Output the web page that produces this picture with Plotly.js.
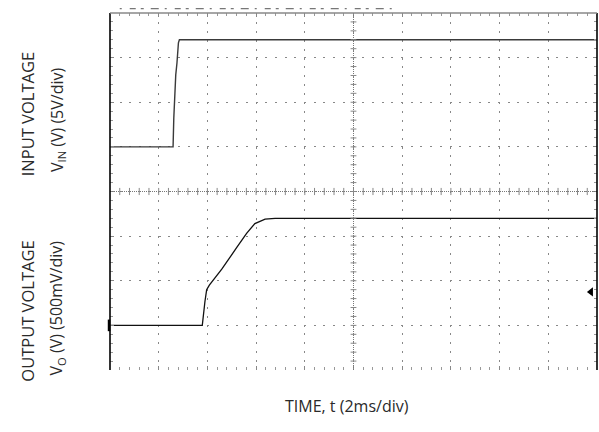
<!DOCTYPE html>
<html>
<head>
<meta charset="utf-8">
<script src="https://cdn.plot.ly/plotly-3.0.1.min.js"></script>
<style>html,body{margin:0;padding:0;background:#fff;}#chart{width:599px;height:432px;}</style>
</head>
<body>
<div id="chart"></div>
<script>
// ---- data (time in ms, voltage in V) ----
const inputTime = [0, 2.59, 2.62, 2.67, 2.70, 2.75, 2.81, 2.85, 2.93, 20];
const inputVolt = [0, 0, 3.25, 6.4, 8.07, 9.4, 11.65, 12, 12, 12];
const outputTime = [0, 3.79, 3.90, 3.97, 4.08, 4.59, 5.20, 5.61, 5.95, 6.37, 6.78, 20];
const outputVolt = [0, 0, 0.27, 0.40, 0.45, 0.63, 0.87, 1.03, 1.14, 1.19, 1.20, 1.20];
// scope settings
const inputScale = 5;      // V/div
const outputScale = 0.5;   // V/div
const inputGroundDiv = 5;  // divisions from bottom
const outputGroundDiv = 1;
const triggerLevelDiv = 1.75;
const timeRange = [0, 20];
const divRange = [0, 8];

const inY = inputVolt.map(v => inputGroundDiv + v / inputScale);
const outY = outputVolt.map(v => outputGroundDiv + v / outputScale);

const traces = [
  {x: inputTime, y: inY, mode: 'lines', line: {color: '#3a3a3a', width: 1.4}, hoverinfo: 'skip'},
  {x: outputTime, y: outY, mode: 'lines', line: {color: '#111', width: 1.3}, hoverinfo: 'skip'},
  {x: [19.75], y: [triggerLevelDiv], mode: 'markers', cliponaxis: false,
   marker: {symbol: 'triangle-left', size: 8, color: '#000'}, hoverinfo: 'skip'}
];

const shapes = [];
// centre crosshair
shapes.push({type: 'line', xref: 'x', yref: 'y', x0: 0, x1: 20, y0: 4, y1: 4,
  line: {color: '#777', width: 1, dash: '1px,1px'}});
shapes.push({type: 'line', xref: 'x', yref: 'y', x0: 10, x1: 10, y0: 0, y1: 8,
  line: {color: '#777', width: 1, dash: '1px,1px'}});
for (let i = 1; i < 50; i++) {
  const t = i * 0.4;
  shapes.push({type: 'line', xref: 'x', yref: 'y', x0: t, x1: t, y0: 4 - 0.08, y1: 4 + 0.08,
    line: {color: '#888', width: 1}});
}
for (let j = 1; j < 40; j++) {
  const d = j * 0.2;
  shapes.push({type: 'line', xref: 'x', yref: 'y', x0: 10 - 0.12, x1: 10 + 0.12, y0: d, y1: d,
    line: {color: '#888', width: 1}});
}
// frame
shapes.push({type: 'line', xref: 'paper', yref: 'paper', x0: 0, x1: 0, y0: 0, y1: 1,
  line: {color: '#000', width: 1.6}});
shapes.push({type: 'line', xref: 'paper', yref: 'paper', x0: 1, x1: 1, y0: 0, y1: 1,
  line: {color: '#000', width: 1.6}});
shapes.push({type: 'line', xref: 'paper', yref: 'paper', x0: 0, x1: 1, y0: 1, y1: 1,
  line: {color: '#888', width: 1.5}});
// output ground marker
shapes.push({type: 'line', xref: 'paper', yref: 'y', x0: -0.002, x1: -0.002,
  y0: outputGroundDiv - 0.13, y1: outputGroundDiv + 0.13, line: {color: '#000', width: 2.5}});
// scope header remnant above the grid
shapes.push({type: 'line', xref: 'paper', yref: 'paper', x0: 0.02, x1: 0.58, y0: 1.012, y1: 1.012,
  line: {color: '#555', width: 1, dash: '2px,8px,6px,5px,3px,7px,8px,6px'}});

const fontFam = '"Open Sans", "Noto Sans", sans-serif';
const capFont = {family: fontFam, size: 16.5, color: '#2a2a2a'};
const annFont = {family: fontFam, size: 16, color: '#2a2a2a'};
const annotations = [
  {text: 'INPUT VOLTAGE', xref: 'paper', yref: 'paper', x: -0.170, y: 0.717,
   xanchor: 'center', yanchor: 'middle', textangle: -90, showarrow: false, font: capFont},
  {text: 'V<sub>IN</sub> (V) (5V/div)', xref: 'paper', yref: 'paper', x: -0.109, y: 0.700,
   xanchor: 'center', yanchor: 'middle', textangle: -90, showarrow: false, font: annFont},
  {text: 'OUTPUT VOLTAGE', xref: 'paper', yref: 'paper', x: -0.170, y: 0.164,
   xanchor: 'center', yanchor: 'middle', textangle: -90, showarrow: false, font: capFont},
  {text: 'V<sub>O</sub> (V) (500mV/div)', xref: 'paper', yref: 'paper', x: -0.109, y: 0.175,
   xanchor: 'center', yanchor: 'middle', textangle: -90, showarrow: false, font: annFont},
  {text: 'TIME, t (2ms/div)', xref: 'paper', yref: 'paper', x: 0.487, y: -0.101,
   xanchor: 'center', yanchor: 'middle', showarrow: false, font: annFont}
];

const layout = {
  width: 599, height: 432,
  margin: {l: 110, r: 2, t: 13, b: 62, pad: 0},
  paper_bgcolor: '#fff', plot_bgcolor: '#fff',
  showlegend: false,
  xaxis: {
    range: timeRange, dtick: 2, tick0: 0, showticklabels: false, zeroline: false, showline: false,
    showgrid: true, gridcolor: '#888', gridwidth: 1, griddash: '2px,6.9px',
    ticks: 'inside', ticklen: 4, tickcolor: '#888', mirror: 'allticks',
    minor: {dtick: 0.4, tick0: 0, ticks: 'inside', ticklen: 3, tickcolor: '#999', showgrid: false},
    fixedrange: true
  },
  yaxis: {
    range: divRange, dtick: 1, tick0: 0, showticklabels: false, zeroline: false, showline: false,
    showgrid: true, gridcolor: '#888', gridwidth: 1, griddash: '2px,7.7px',
    ticks: 'inside', ticklen: 4, tickcolor: '#888', mirror: 'allticks',
    minor: {dtick: 0.2, tick0: 0, ticks: 'inside', ticklen: 3, tickcolor: '#999', showgrid: false},
    fixedrange: true
  },
  shapes: shapes,
  annotations: annotations
};

Plotly.newPlot('chart', traces, layout, {staticPlot: true, displayModeBar: false});
</script>
</body>
</html>
